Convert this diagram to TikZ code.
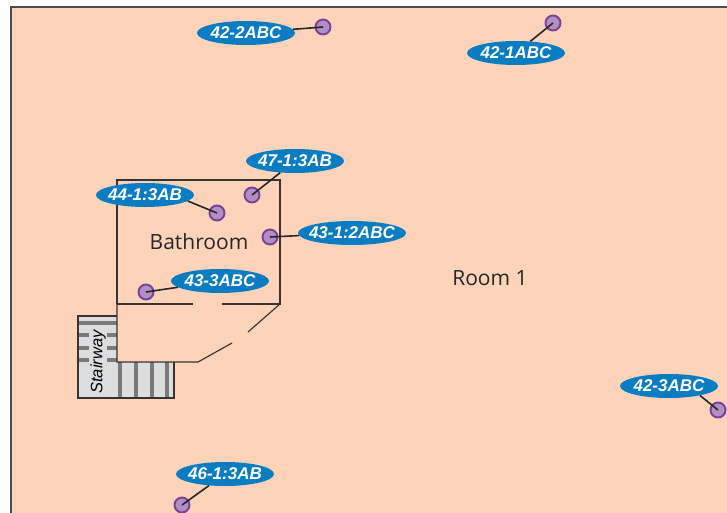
\documentclass[tikz,border=0pt]{standalone}
\usepackage{fontspec}
\setmainfont{Open Sans}
\newfontfamily\tagfont{Liberation Sans}
\usetikzlibrary{shapes.geometric}

\definecolor{roomfill}{HTML}{FDD3B9}
\definecolor{tagblue}{HTML}{0A7DC2}
\definecolor{dotfill}{HTML}{AF8FC4}
\definecolor{dotline}{HTML}{7B3F98}
\definecolor{stairfill}{HTML}{DCDDDF}
\definecolor{stairbar}{HTML}{7A7A7A}
\definecolor{wallline}{HTML}{3A3230}

\newcommand{\tagtext}[1]{\makebox[0pt]{#1}}

\begin{document}
\begin{tikzpicture}[x=1pt,y=-1pt,
   tag/.style={ellipse,fill=tagblue,text=white,minimum width=98pt,minimum height=24pt,inner sep=0pt,font=\tagfont\bfseries\itshape\fontsize{17}{18}\selectfont},
   sensor/.style={circle,draw=dotline,fill=dotfill,line width=1.9pt,minimum size=15pt,inner sep=0pt},
   lead/.style={line width=1.6pt,black!85},
   wall/.style={line width=1.15pt,wallline},
   roomname/.style={text=black!85,font=\fontsize{21}{24}\selectfont}]

   \useasboundingbox (0,0) rectangle (727,513);

   % Room
   \fill[roomfill] (11,7) rectangle (727,513);
   \draw[line width=1.3pt,black!70] (11,513) -- (11,7) -- (727,7);

   % Stairs
   \fill[stairfill] (78,316) rectangle (117,398);
   \fill[stairfill] (117,362) rectangle (174,398);
   \draw[stairbar,line width=4pt] (78,322.7) -- (117,322.7);
   \draw[stairbar,line width=4pt] (78,335) -- (117,335);
   \draw[stairbar,line width=4pt] (78,347.7) -- (117,347.7);
   \draw[stairbar,line width=4pt] (78,360) -- (117,360);
   \draw[stairbar,line width=3.6pt] (120,362) -- (120,398);
   \draw[stairbar,line width=3.6pt] (136,362) -- (136,398);
   \draw[stairbar,line width=3.6pt] (152,362) -- (152,398);
   \draw[stairbar,line width=3.6pt] (167,362) -- (167,398);
   \draw[wall] (117,316) -- (78,316) -- (78,398) -- (174,398) -- (174,362);
   \node[rotate=90,fill=stairfill,inner xsep=0pt,inner ysep=1pt,font=\tagfont\itshape\fontsize{16.5}{17}\selectfont] (stair) at (98,362) {Stairway};

   % Walls
   \draw[wall] (117,304) -- (117,180) -- (280,180) -- (280,304) -- (222,304);
   \draw[wall] (117,304) -- (193,304);
   \draw[wall] (280,304) -- (248,332);
   \draw[wall] (232,343) -- (198,362) -- (117,362) -- (117,304);

   \node[roomname] (bath) at (199,242) {Bathroom};
   \node[roomname] (room1) at (490,278) {Room 1};

   % Tags
   \node[tag] (t422) at (246,33) {\tagtext{42-2ABC}};
   \node[tag] (t421) at (516,53) {\tagtext{42-1ABC}};
   \node[tag] (t471) at (295,161) {\tagtext{47-1:3AB}};
   \node[tag] (t441) at (145,195) {\tagtext{44-1:3AB}};
   \node[tag,minimum width=108pt] (t431) at (352,233) {\tagtext{43-1:2ABC}};
   \node[tag] (t433) at (220,281) {\tagtext{43-3ABC}};
   \node[tag] (t423) at (669,386) {\tagtext{42-3ABC}};
   \node[tag] (t461) at (225,474) {\tagtext{46-1:3AB}};

   % Sensors
   \node[sensor] (s422) at (323,27) {};
   \node[sensor] (s421) at (553,23) {};
   \node[sensor] (s471) at (252,195) {};
   \node[sensor] (s441) at (217,213) {};
   \node[sensor] (s431) at (270,237) {};
   \node[sensor] (s433) at (146,292) {};
   \node[sensor] (s423) at (718,410) {};
   \node[sensor] (s461) at (182,505) {};

   % Leads
   \draw[lead] (t422) -- (s422.center);
   \draw[lead] (t421) -- (s421.center);
   \draw[lead] (t471) -- (s471.center);
   \draw[lead] (t441.-8) -- (s441.center);
   \draw[lead] (t431) -- (s431.center);
   \draw[lead] (t433) -- (s433.center);
   \draw[lead] (t423.-17) -- (s423.center);
   \draw[lead] (t461) -- (s461.center);

\end{tikzpicture}
\end{document}
